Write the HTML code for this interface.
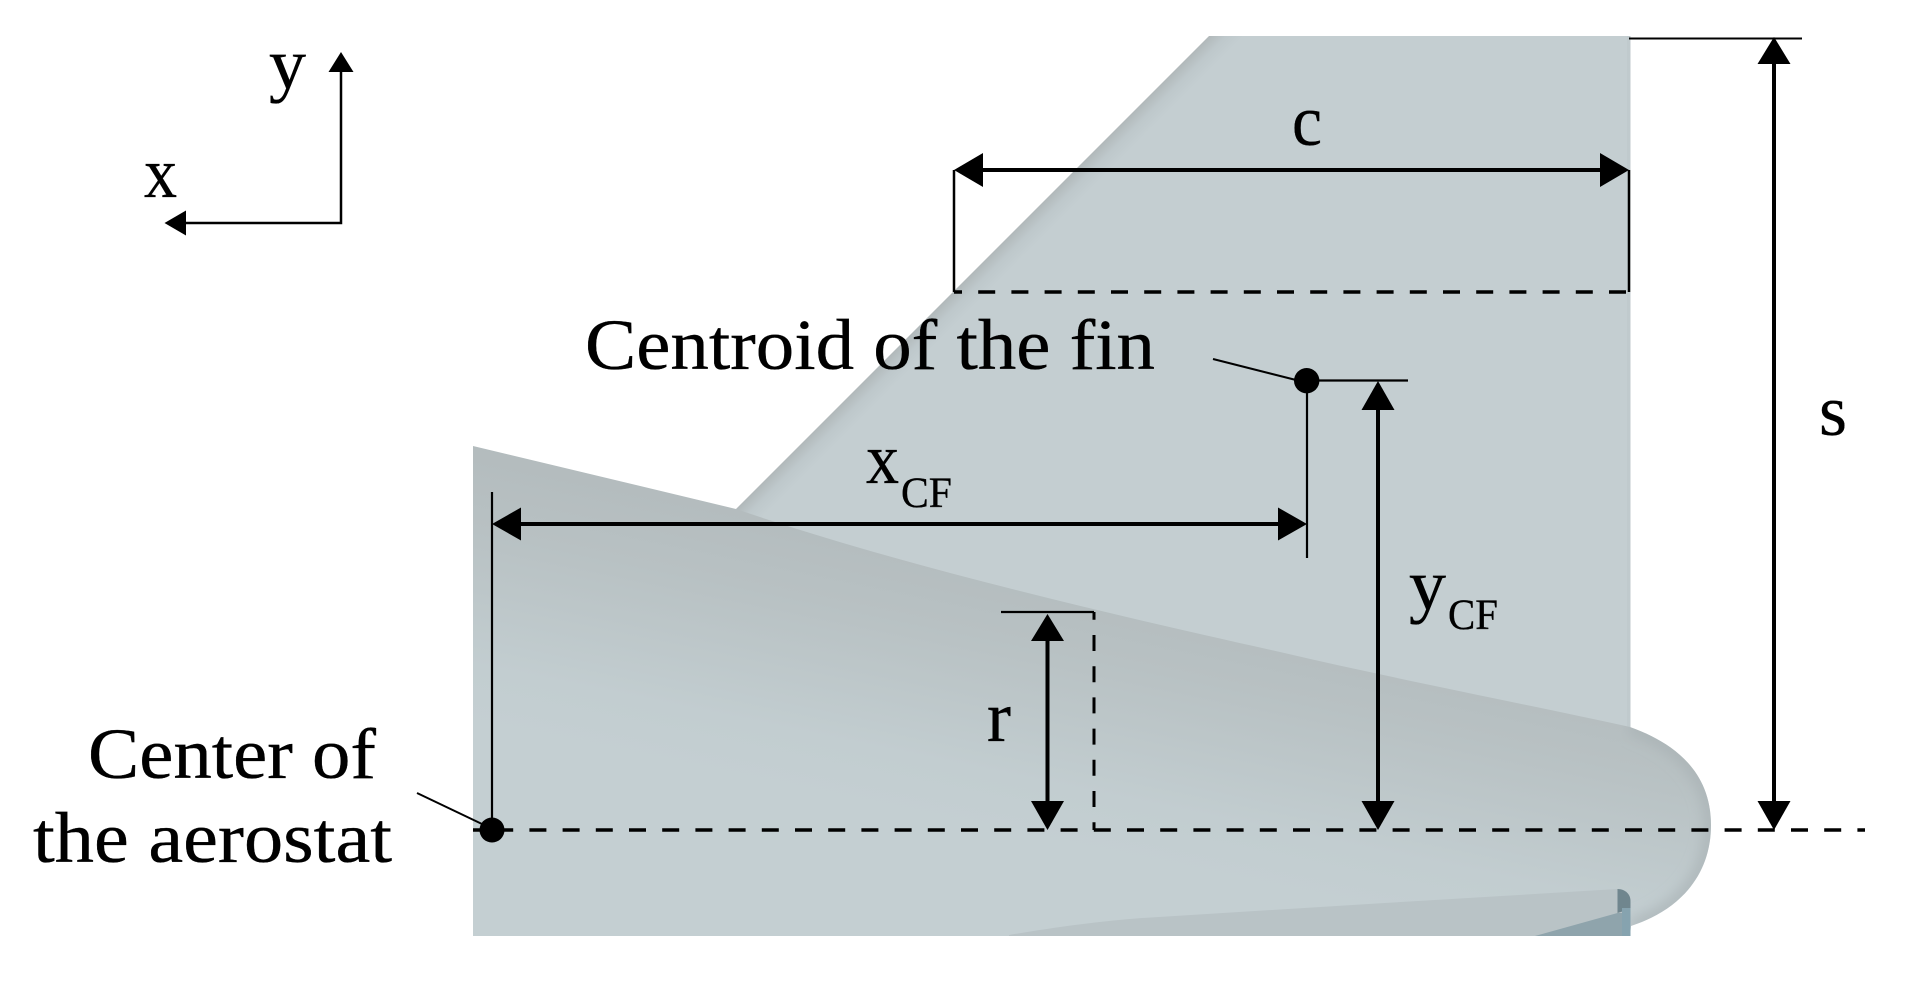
<!DOCTYPE html>
<html><head><meta charset="utf-8"><style>html,body{margin:0;padding:0;background:#fff}svg{display:block}text{font-family:"Liberation Serif",serif;fill:#000;stroke:#000;stroke-width:.35}</style></head><body>
<svg width="1912" height="981" viewBox="0 0 1912 981" xmlns="http://www.w3.org/2000/svg">
<defs>
<linearGradient id="bg" gradientUnits="userSpaceOnUse" x1="1035" y1="540" x2="975" y2="830"><stop offset="0" stop-color="#b2babc"/><stop offset=".35" stop-color="#b8c1c3"/><stop offset=".8" stop-color="#c2cdd0"/><stop offset="1" stop-color="#c4cfd2"/></linearGradient>
<linearGradient id="fg" gradientUnits="userSpaceOnUse" x1="972" y1="272" x2="990" y2="290"><stop offset="0" stop-color="#b0b7b9"/><stop offset=".5" stop-color="#bec8cb"/><stop offset="1" stop-color="#c4ced1"/></linearGradient>
<clipPath id="bc"><path d="M473 446L736 509C900 565 1100 612 1280 652C1400 680 1530 705 1630 727C1672 742 1711 770 1711 825C1711 875 1680 910 1631 926L1630 936H473Z"/></clipPath>
<filter id="bl"><feGaussianBlur stdDeviation="7"/></filter>
</defs>
<path d="M1209 36H1630.500V740H600L736 509Z" fill="url(#fg)"/>
<rect x="1627" y="36" width="3.500" height="700" fill="#c0cacd"/>
<path d="M473 446L736 509C900 565 1100 612 1280 652C1400 680 1530 705 1630 727C1672 742 1711 770 1711 825C1711 875 1680 910 1631 926L1630 936H473Z" fill="url(#bg)"/>
<g clip-path="url(#bc)"><path d="M1630 727C1672 742 1711 770 1711 825C1711 875 1680 910 1631 926" fill="none" stroke="#a8b1b4" stroke-width="10" filter="url(#bl)"/></g>
<path d="M1009 935C1050 928 1100 921 1142 918L1385 903L1617.500 889L1630.500 899V936H1009Z" fill="#b9c3c6"/>
<path d="M1535 936L1617.500 913H1630.500V936Z" fill="#8fa4ac"/>
<path d="M1617.500 889C1625 889 1630.500 894 1630.500 901V909L1617.500 913Z" fill="#70868e"/>
<rect x="1622" y="908" width="8.500" height="28" fill="#86a3af"/>

<g stroke="#000" fill="none">
<g stroke-width="2">
<path d="M341 70V223H186" stroke-width="2.500"/>
<path d="M954 170V292M1629 170V292" stroke-width="2.500"/>
<path d="M1629 38.500H1802"/>
<path d="M492 492V830" stroke-width="2.200"/>
<path d="M417 793L482 824"/>
<path d="M1213 359L1296 380"/>
<path d="M1307 380.500V558M1307 380.500H1408" stroke-width="2.200"/>
<path d="M1001 612H1094" stroke-width="2.200"/>
</g>
<g stroke-width="3.400">
<path d="M473 830H1865" stroke-dasharray="17 16.200" stroke-dashoffset="10"/>
<path d="M954 292H1629" stroke-dasharray="17 16.200" stroke-dashoffset="9"/>
<path d="M1094 612V830" stroke-dasharray="16 15.200" stroke-dashoffset="8.200" stroke-width="3"/>
</g>
<g stroke-width="4">
<path d="M980 170H1605"/>
<path d="M518 524H1282"/>
<path d="M1774 60V805"/>
<path d="M1378 405V805"/>
<path d="M1047.500 638V805"/>
</g>
</g>
<g fill="#000">
<path d="M341 52L353.500 72H328.500Z"/><path d="M164.500 223L186 210.500V235.500Z"/>
<path d="M954 170L983 153V187Z"/><path d="M1629 170L1600 153V187Z"/>
<path d="M1774 37L1790.500 64H1757.500Z"/><path d="M1774 830L1790.500 801H1757.500Z"/>
<path d="M492 524L521 507.500V540.500Z"/><path d="M1307 524L1278 507.500V540.500Z"/>
<path d="M1378 381L1394.500 410H1361.500Z"/><path d="M1378 830L1394.500 801H1361.500Z"/>
<path d="M1047.500 614L1064 641H1031Z"/><path d="M1047.500 830L1064 801H1031Z"/>
<circle cx="492" cy="830" r="12.500"/><circle cx="1306.700" cy="380.700" r="12.700"/>
</g>
<g font-size="72">
<text x="269" y="88" textLength="37" lengthAdjust="spacingAndGlyphs">y</text>
<text x="144" y="197" textLength="33" lengthAdjust="spacingAndGlyphs">x</text>
<text x="1292" y="145" textLength="30" lengthAdjust="spacingAndGlyphs">c</text>
<text x="585" y="369" textLength="570" lengthAdjust="spacingAndGlyphs">Centroid of the fin</text>
<text x="88" y="778" textLength="288" lengthAdjust="spacingAndGlyphs">Center of</text>
<text x="33" y="862" textLength="359" lengthAdjust="spacingAndGlyphs">the aerostat</text>
<text x="866" y="483" textLength="33" lengthAdjust="spacingAndGlyphs">x</text>
<text x="1409" y="609" textLength="37" lengthAdjust="spacingAndGlyphs">y</text>
<text x="987" y="741" textLength="24" lengthAdjust="spacingAndGlyphs">r</text>
<text x="1819" y="435" textLength="28" lengthAdjust="spacingAndGlyphs">s</text>
</g>
<g font-size="43">
<text x="901" y="507" textLength="51" lengthAdjust="spacingAndGlyphs">CF</text>
<text x="1448" y="629" textLength="50" lengthAdjust="spacingAndGlyphs">CF</text>
</g>
</svg>
</body></html>
